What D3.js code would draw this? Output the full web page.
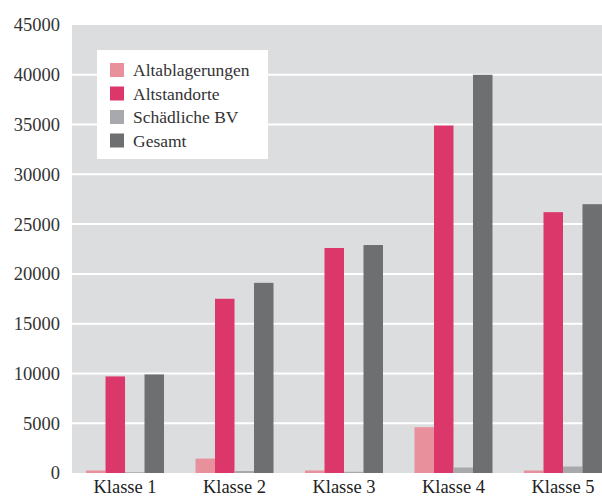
<!DOCTYPE html>
<html><head><meta charset="utf-8">
<script src="https://cdn.jsdelivr.net/npm/d3@7"></script>
<style>body{margin:0;background:#fff}svg{display:block}</style>
</head><body>
<svg id="c" width="602" height="498"></svg>
<script>
const categories = ["Klasse 1","Klasse 2","Klasse 3","Klasse 4","Klasse 5"];
const seriesNames = ["Altablagerungen","Altstandorte","Schädliche BV","Gesamt"];
const altablagerungen = [250, 1450, 250, 4600, 250];
const altstandorte = [9700, 17500, 22600, 34900, 26200];
const schaedlicheBV = [80, 200, 120, 550, 650];
const gesamt = [9900, 19100, 22900, 40000, 27000];
const yTicks = [0,5000,10000,15000,20000,25000,30000,35000,40000,45000];
const colors = ["#e8919d","#dc376b","#a8a9ac","#6e6f71"];

(function(){
const series = [altablagerungen, altstandorte, schaedlicheBV, gesamt];
const svg = d3.select("#c");
const pLeft = 72, pRight = 602, pTop = 25, pBottom = 473;
const font = "'Liberation Serif', 'DejaVu Serif', serif";

const y = d3.scaleLinear().domain([0,45000]).range([pBottom, pTop]);
const x0 = d3.scaleBand().domain(categories).range([72, 616]).paddingInner(0.2877).paddingOuter(0.128);
const x1 = d3.scaleBand().domain(seriesNames).range([0, x0.bandwidth()]).padding(0);

svg.append("rect").attr("x", pLeft).attr("y", pTop).attr("width", pRight-pLeft).attr("height", pBottom-pTop).attr("fill", "#dcdddf");

svg.append("g").selectAll("line").data(yTicks.filter(t => t>0 && t<45000)).join("line")
  .attr("x1", pLeft).attr("x2", pRight).attr("y1", d=>y(d)).attr("y2", d=>y(d))
  .attr("stroke", "#fff").attr("stroke-width", 2);

const g = svg.append("g").selectAll("g").data(categories).join("g")
  .attr("transform", d => `translate(${x0(d)},0)`);
g.selectAll("rect").data((d,i) => seriesNames.map((s,j) => ({s, v: series[j][i], j}))).join("rect")
  .attr("x", d => x1(d.s)).attr("width", x1.bandwidth())
  .attr("y", d => y(d.v)).attr("height", d => pBottom - y(d.v))
  .attr("fill", d => colors[d.j]);

const yAxis = d3.axisLeft(y).tickValues(yTicks).tickSize(0).tickPadding(12).tickFormat(d3.format("d"));
const ya = svg.append("g").attr("transform", `translate(${pLeft},0)`).call(yAxis);
ya.select(".domain").remove();
ya.selectAll("text").attr("font-family", font).attr("font-size", 18.5).attr("fill", "#333");

const xAxis = d3.axisBottom(x0).tickSize(0).tickPadding(7);
const xa = svg.append("g").attr("transform", `translate(0,${pBottom})`).call(xAxis);
xa.select(".domain").remove();
xa.selectAll("text").attr("font-family", font).attr("font-size", 18.5).attr("fill", "#222");

const lg = svg.append("g");
lg.append("rect").attr("x", 97).attr("y", 50).attr("width", 171).attr("height", 109).attr("fill", "#fff");
const items = lg.selectAll("g").data(seriesNames).join("g")
  .attr("transform", (d,i) => `translate(110,${63 + i*23.5})`);
items.append("rect").attr("width", 14).attr("height", 14).attr("fill", (d,i) => colors[i]);
items.append("text").attr("x", 23).attr("y", 7).attr("dy", "0.35em").text(d => d)
  .attr("font-family", font).attr("font-size", 17.5).attr("fill", "#333");
})();
</script>
</body></html>
